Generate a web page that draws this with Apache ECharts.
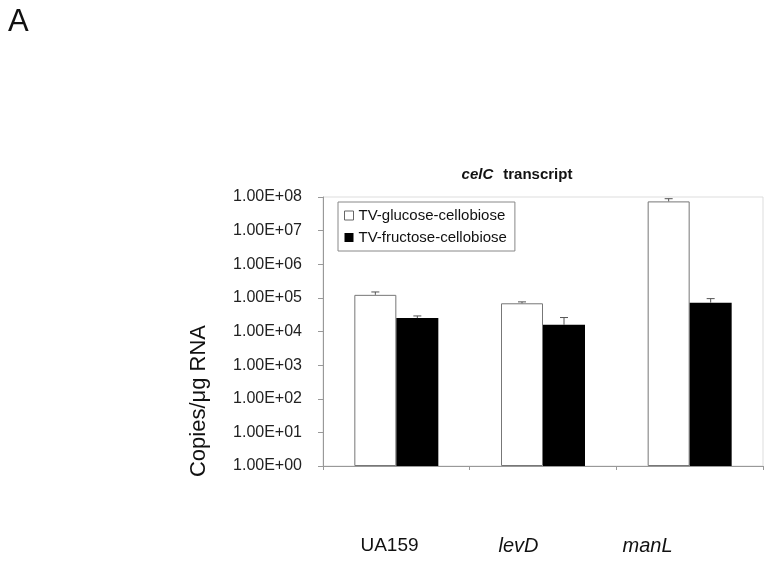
<!DOCTYPE html>
<html>
<head>
<meta charset="utf-8">
<script src="https://cdn.jsdelivr.net/npm/echarts@6/dist/echarts.min.js"></script>
<style>html,body{margin:0;padding:0;background:#fff;}#c{width:773px;height:576px;}</style>
</head>
<body>
<div id="c"></div>
<script>
var categories = ['UA159', 'levD', 'manL'];
var glucose = [1.23e5, 6.9e4, 7.4e7];
var glucoseErrTop = [1.5e5, 7.6e4, 8.9e7];
var fructose = [2.5e4, 1.58e4, 7.2e4];
var fructoseErrTop = [2.9e4, 2.6e4, 9.5e4];
var seriesNames = ['TV-glucose-cellobiose', 'TV-fructose-cellobiose'];
var yTickLabels = ['1.00E+00','1.00E+01','1.00E+02','1.00E+03','1.00E+04','1.00E+05','1.00E+06','1.00E+07','1.00E+08'];

var BAR_W = 42;
var FONT = 'Liberation Sans, Arial, sans-serif';

function errSeries(vals, tops, side) {
  var data = vals.map(function (v, i) { return [i, v, tops[i]]; });
  return {
    type: 'custom',
    xAxisIndex: 0, yAxisIndex: 0,
    silent: true,
    z: 5,
    data: data,
    renderItem: function (params, api) {
      var i = api.value(0);
      var p0 = api.coord([i, api.value(1)]);
      var p1 = api.coord([i, api.value(2)]);
      var x = p0[0] + side * BAR_W / 2;
      var cap = 4;
      return {
        type: 'group',
        children: [
          { type: 'line', shape: { x1: x, y1: p0[1], x2: x, y2: p1[1] }, style: { stroke: '#555', lineWidth: 1 } },
          { type: 'line', shape: { x1: x - cap, y1: p1[1], x2: x + cap, y2: p1[1] }, style: { stroke: '#555', lineWidth: 1 } }
        ]
      };
    }
  };
}

var chart = echarts.init(document.getElementById('c'));
chart.setOption({
  animation: false,
  backgroundColor: '#fff',
  title: [
    { text: 'A', left: 3, top: 2, textStyle: { fontFamily: FONT, fontSize: 31, fontWeight: 'normal', color: '#111' } },
    {
      text: '{i|celC}  {b|transcript}', left: 512, top: 161, textAlign: 'center',
      textStyle: { rich: {
        i: { fontFamily: FONT, fontSize: 15, fontWeight: 'bold', fontStyle: 'italic', color: '#111' },
        b: { fontFamily: FONT, fontSize: 15, fontWeight: 'bold', color: '#111' }
      } }
    }
  ],
  graphic: [
    { type: 'text', x: 199, y: 401, rotation: Math.PI / 2, style: { text: 'Copies/\u03bcg RNA', font: '22px ' + FONT, fill: '#111', align: 'center', verticalAlign: 'middle' } }
  ],
  legend: {
    orient: 'vertical',
    left: 338, top: 202,
    padding: [6, 8, 6, 6],
    itemGap: 7,
    itemWidth: 9, itemHeight: 9,
    borderColor: '#888', borderWidth: 1,
    textStyle: { fontFamily: FONT, fontSize: 15, color: '#111' },
    data: [
      { name: seriesNames[0], icon: 'rect', itemStyle: { color: '#fff', borderColor: '#666', borderWidth: 1 } },
      { name: seriesNames[1], icon: 'rect', itemStyle: { color: '#000' } }
    ]
  },
  grid: [
    { left: 323, right: 10, top: 197, bottom: 110, show: true, borderColor: '#ddd', borderWidth: 1 },
    { left: 325, width: 387, top: 520, height: 15 }
  ],
  xAxis: [
    {
      type: 'category', gridIndex: 0, data: categories,
      axisLine: { lineStyle: { color: '#999' } },
      axisTick: { show: true, alignWithLabel: false, length: 4, lineStyle: { color: '#999' } },
      axisLabel: { show: false }
    },
    {
      type: 'category', gridIndex: 1, data: categories,
      axisLine: { show: false }, axisTick: { show: false },
      axisLabel: {
        margin: 1,
        formatter: function (v) { return v === 'UA159' ? '{n|' + v + '}' : '{it|' + v + '}'; },
        rich: {
          n: { fontFamily: FONT, fontSize: 19, color: '#111' },
          it: { fontFamily: FONT, fontSize: 20, fontStyle: 'italic', color: '#111' }
        }
      }
    }
  ],
  yAxis: [
    {
      type: 'log', logBase: 10, min: 1, max: 1e8, gridIndex: 0,
      axisLine: { show: true, lineStyle: { color: '#999' } },
      axisTick: { show: true, length: 5, lineStyle: { color: '#999' } },
      splitLine: { show: false },
      axisLabel: {
        margin: 21, fontFamily: FONT, fontSize: 16, color: '#222',
        formatter: function (v) { return yTickLabels[Math.round(Math.log10(v))]; }
      }
    },
    { type: 'value', gridIndex: 1, show: false }
  ],
  series: [
    { name: seriesNames[0], type: 'bar', xAxisIndex: 0, yAxisIndex: 0, data: glucose, barWidth: BAR_W, barGap: '0%',
      itemStyle: { color: '#fff', borderColor: '#777', borderWidth: 1 } },
    { name: seriesNames[1], type: 'bar', xAxisIndex: 0, yAxisIndex: 0, data: fructose, barWidth: BAR_W, barGap: '0%',
      itemStyle: { color: '#000' } },
    errSeries(glucose, glucoseErrTop, -1),
    errSeries(fructose, fructoseErrTop, 1)
  ]
});
</script>
</body>
</html>
